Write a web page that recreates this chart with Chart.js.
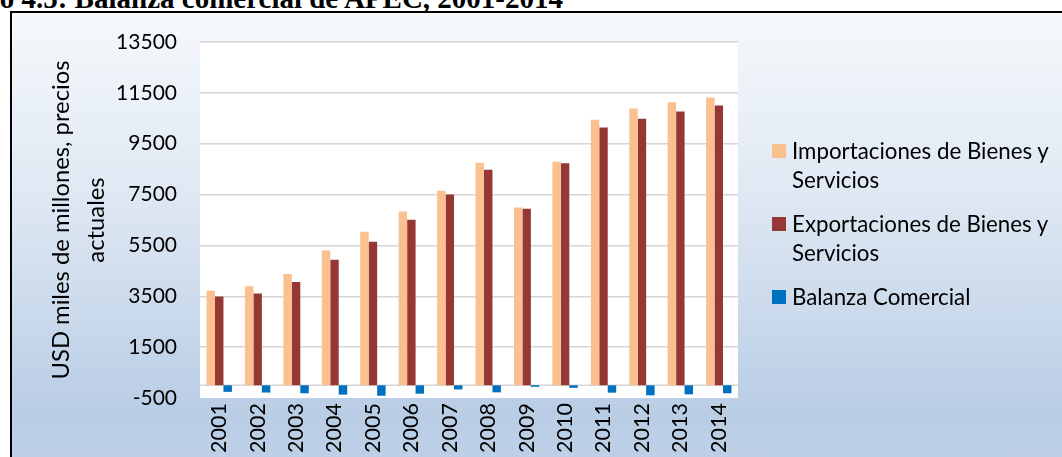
<!DOCTYPE html>
<html>
<head>
<meta charset="utf-8">
<script src="https://cdn.jsdelivr.net/npm/chart.js@4/dist/chart.umd.min.js"></script>
<style>
    html, body { margin: 0; padding: 0; background: #ffffff; overflow: hidden; }
    body { width: 1062px; height: 457px; position: relative; }
    .fig-title {
        position: absolute;
        right: 499px;
        top: -16px;
        font: bold 29px 'Liberation Serif', 'Times New Roman', serif;
        line-height: 29px;
        white-space: nowrap;
        color: #000;
    }
    .chart-box {
        position: absolute;
        left: 10px;
        top: 11px;
        width: 1100px;
        height: 500px;
        border-left: 2px solid #000;
        border-top: 2px solid #000;
        background: linear-gradient(to bottom, #f6f9fc 0%, #dce6f2 40%, #b9cde5 80%, #c2d4e9 100%);
    }
    #chartWrap { position: absolute; left: 0; top: 0; width: 1062px; height: 457px; }
    #legend {
        position: absolute;
        left: 772px;
        top: 136px;
        width: 290px;
        font: 22.3px Lato, 'Noto Sans', sans-serif;
        color: #000;
    }
    .legend-item { display: flex; align-items: flex-start; margin-bottom: 15px; }
    .legend-box { width: 14px; height: 14px; margin-top: 7.5px; flex: none; }
    .legend-text { margin-left: 6px; line-height: 29px; width: 276px; }
</style>
</head>
<body>
<div class="fig-title">Gráfico 4.5: Balanza comercial de APEC, 2001-2014</div>
<div class="chart-box"></div>
<div id="chartWrap"><canvas id="apecChart" width="1062" height="457"></canvas></div>
<div id="legend"></div>
<script>
// Data (USD miles de millones)
const years = ['2001', '2002', '2003', '2004', '2005', '2006', '2007', '2008', '2009', '2010', '2011', '2012', '2013', '2014'];
const importaciones = [3720, 3890, 4380, 5300, 6035, 6830, 7655, 8755, 6990, 8795, 10440, 10885, 11130, 11315];
const exportaciones = [3490, 3605, 4060, 4940, 5645, 6505, 7500, 8480, 6940, 8730, 10140, 10480, 10765, 11005];
const balanza = [-258, -285, -315, -368, -412, -330, -165, -278, -60, -100, -290, -395, -355, -315];
const seriesNames = ['Importaciones de Bienes y Servicios', 'Exportaciones de Bienes y Servicios', 'Balanza Comercial'];
const seriesColors = ['#fac090', '#953735', '#0070c0'];
const yTitle = ['USD miles de millones, precios', 'actuales'];

document.addEventListener('DOMContentLoaded', function() {
    const gridColor = '#d6d6d6';

    // white plot area + zero line
    const plotArea = {
        id: 'plotArea',
        beforeDraw(chart) {
            const a = chart.chartArea;
            const ctx = chart.ctx;
            ctx.save();
            ctx.fillStyle = '#ffffff';
            ctx.fillRect(a.left, a.top, a.right - a.left, a.bottom - a.top);
            ctx.restore();
        },
        beforeDatasetsDraw(chart) {
            const a = chart.chartArea;
            const ctx = chart.ctx;
            const y0 = chart.scales.y.getPixelForValue(0);
            ctx.save();
            ctx.strokeStyle = gridColor;
            ctx.lineWidth = 1.5;
            ctx.beginPath();
            ctx.moveTo(a.left, y0);
            ctx.lineTo(a.right, y0);
            ctx.stroke();
            ctx.restore();
        }
    };

    const data = [importaciones, exportaciones, balanza];
    const datasets = data.map(function(values, i) {
        return {
            label: seriesNames[i],
            data: values,
            backgroundColor: seriesColors[i],
            borderWidth: 0,
            categoryPercentage: 0.66,
            barPercentage: 1.0
        };
    });

    const chart = new Chart(document.getElementById('apecChart'), {
        type: 'bar',
        data: { labels: years, datasets: datasets },
        options: {
            responsive: false,
            animation: false,
            layout: { padding: { left: 0, top: 42, right: 324, bottom: 0 } },
            plugins: {
                legend: { display: false },
                tooltip: { enabled: false }
            },
            scales: {
                x: {
                    grid: { display: false, drawTicks: false },
                    border: { display: false },
                    ticks: {
                        color: '#000',
                        font: { family: 'Lato', size: 21.5 },
                        minRotation: 90,
                        maxRotation: 90,
                        padding: 5
                    },
                    afterFit(scale) { scale.height = 59; }
                },
                y: {
                    min: -500,
                    max: 13500,
                    grid: {
                        drawTicks: false,
                        lineWidth: 1.5,
                        color: function(c) {
                            return c.tick && c.tick.value === -500 ? 'rgba(0,0,0,0)' : gridColor;
                        }
                    },
                    border: { display: false },
                    ticks: {
                        stepSize: 2000,
                        color: '#000',
                        padding: 23,
                        font: { family: 'Lato', size: 21 },
                        callback: function(value) { return String(value); }
                    },
                    title: {
                        display: true,
                        text: yTitle,
                        color: '#000',
                        font: { family: 'Lato', size: 23.8, lineHeight: 35 / 23.8 },
                        padding: { top: 43.5, bottom: 0 }
                    },
                    afterFit(scale) { scale.width = 200; }
                }
            }
        },
        plugins: [plotArea]
    });

    // HTML legend (wraps the long names like the original)
    const legend = document.getElementById('legend');
    chart.data.datasets.forEach(function(ds) {
        const item = document.createElement('div');
        item.className = 'legend-item';
        const box = document.createElement('span');
        box.className = 'legend-box';
        box.style.background = ds.backgroundColor;
        const text = document.createElement('span');
        text.className = 'legend-text';
        text.textContent = ds.label;
        item.appendChild(box);
        item.appendChild(text);
        legend.appendChild(item);
    });
});
</script>
</body>
</html>
